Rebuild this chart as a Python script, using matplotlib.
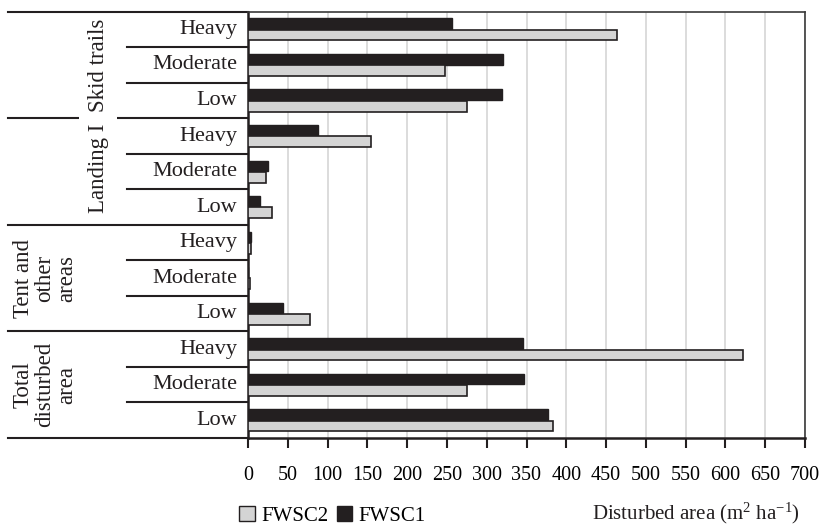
import matplotlib
matplotlib.use('Agg')
import matplotlib.pyplot as plt
from matplotlib.patches import Patch

# Data (m2 ha-1)
groups = ['Skid trails', 'Landing I', 'Tent and\nother\nareas', 'Total\ndisturbed\narea']
levels = ['Heavy', 'Moderate', 'Low']
fwsc1 = [256, 321, 319, 88, 25, 15, 4, 0, 44, 345, 347, 377]
fwsc2 = [464, 247, 275, 155, 23, 30, 4, 3, 78, 622, 275, 383]
xticks = list(range(0, 701, 50))

plt.rcParams['font.family'] = ['Liberation Serif', 'DejaVu Serif']
plt.rcParams['mathtext.fontset'] = 'custom'
plt.rcParams['mathtext.rm'] = 'Liberation Serif'
plt.rcParams['mathtext.it'] = 'Liberation Serif:italic'
fs = 16

W, H = 835, 528
fig = plt.figure(figsize=(W / 100, H / 100), dpi=100)
x0, x1, ytop, ybot = 248, 805, 11.7, 438
ax = fig.add_axes([x0 / W, 1 - ybot / H, (x1 - x0) / W, (ybot - ytop) / H])

def fx(px):
    # pixel x -> axes fraction
    return (px - x0) / (x1 - x0)

n = len(fwsc1)
pos = list(range(n))
h = 0.30
off = 0.16
ax.barh([p - off for p in pos], fwsc1, height=h, color='#231f20',
        edgecolor='#231f20', linewidth=1.0, zorder=3)
ax.barh([p + off for p in pos], fwsc2, height=h, color='#d4d4d4',
        edgecolor='#231f20', linewidth=1.2, zorder=3)

ax.set_xlim(0, 700)
ax.set_ylim(n - 0.5, -0.5)
ax.set_xticks(xticks)
ax.set_xticklabels([str(t) for t in xticks], fontsize=14.5)
ax.tick_params(axis='x', direction='out', length=7, width=1.5, pad=13, color='#231f20')
ax.set_yticks([i + 0.5 for i in range(n - 1)])
ax.set_yticklabels([])
ax.tick_params(axis='y', direction='out', length=7, width=1.2, color='#231f20')
ax.grid(axis='x', color='#d6d6d6', linewidth=1.2, zorder=0)
ax.set_axisbelow(True)
for side in ['left', 'bottom']:
    ax.spines[side].set_linewidth(1.8)
    ax.spines[side].set_color('#231f20')
for side in ['top', 'right']:
    ax.spines[side].set_linewidth(1.2)
    ax.spines[side].set_color('#3a3a3a')

tr = ax.get_yaxis_transform()
# sub-category labels and separators
for i in range(n):
    ax.text(fx(237), i, levels[i % 3], transform=tr, ha='right', va='center',
            fontsize=fs, color='#231f20')
for k in range(n + 1):
    yb = k - 0.5
    if k % 3 == 0:
        start = fx(8)
    else:
        start = fx(127)
    ax.plot([start, 0], [yb, yb], transform=tr, color='#231f20',
            linewidth=1.5, clip_on=False, zorder=1)

# group labels
gx = [98, 98, 45, 45]
gy = [1, 3.92, 7, 10]
for g, name in enumerate(groups):
    t = ax.text(fx(gx[g]), gy[g], name, transform=tr, rotation=90,
                ha='center', va='center', multialignment='center',
                fontsize=16.5, color='#231f20', linespacing=1.03, zorder=5)
    if g == 1:
        t.set_bbox(dict(facecolor='white', edgecolor='none', pad=6.5))

handles = [Patch(facecolor='#d4d4d4', edgecolor='#231f20', linewidth=1.0, label='FWSC2'),
           Patch(facecolor='#231f20', edgecolor='#231f20', label='FWSC1')]
fig.legend(handles=handles, loc='center left', bbox_to_anchor=(229 / W, 1 - 516 / H),
           ncol=2, frameon=False, fontsize=15, handlelength=0.75, handleheight=0.75,
           handletextpad=0.3, columnspacing=0.4, borderpad=0)

fig.text(592 / W, 1 - 513 / H, 'Disturbed area (m$^{2}$ ha$^{-1}$)', ha='left',
         va='center', fontsize=15, color='#231f20')

fig.savefig('out.png', dpi=100)
